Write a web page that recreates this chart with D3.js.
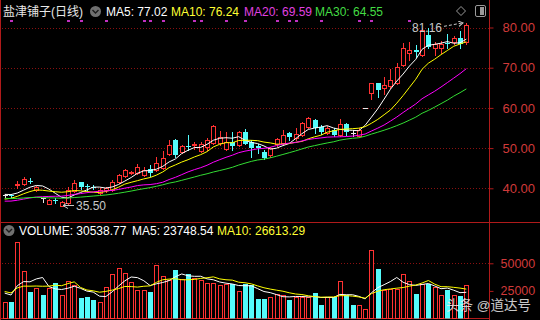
<!DOCTYPE html>
<html><head><meta charset="utf-8">
<script src="https://cdn.jsdelivr.net/npm/d3@7"></script>
<style>
html,body{margin:0;padding:0;background:#000;overflow:hidden;}
svg{display:block;}
text{font-family:"Liberation Sans",Arial,"Noto Sans CJK SC",sans-serif;}
</style></head><body>
<svg id="c" width="540" height="320"></svg>
<script>
// ---- data ----
const stockName = "盐津铺子(日线)";
const opens  = [38.3,38.3,40.9,41.1,41.9,39.5,37.5,36.1,37.2,35.7, 36.4,39.3,41.5,40.5,40.4,38.9,39.5,39.6,41.5,43.0, 43.8,43.8,43.4,44.7,44.5,45.0,48.5,52.0,49.1,50.6, 50.7,49.3,50.2,51.2,51.3,49.8,51.6,50.8,53.9,51.6, 50.6,49.1,48.3,51.0,51.3,53.7,52.4,53.3,55.3,57.0, 55.3,53.7,54.5,53.3,55.9,53.7,53.1,60.06,63.6,66.1, 64.9,65.4,66.1,70.7,73.6,74.4,73.2,78.2,74.8,75.0, 76.2,76.3,77.4,76.3];
const highs  = [38.7,38.5,41.7,42.7,42.6,40.6,37.5,37.3,37.6,36.8, 40.2,42.0,41.6,41.1,40.9,40.0,40.3,42.0,43.6,44.9, 44.4,46.0,45.2,45.8,47.9,49.3,52.0,52.2,50.8,53.2, 51.6,51.5,52.4,55.8,54.2,54.0,54.1,54.2,54.8,52.0, 51.0,49.6,50.2,52.5,54.5,54.0,55.0,56.6,57.8,57.2, 55.8,55.5,55.0,57.2,56.2,54.5,54.9,60.06,66.1,66.3, 67.8,69.8,71.1,76.1,76.5,75.6,80.0,79.8,76.5,76.6, 78.3,77.9,79.2,81.16];
const lows   = [37.9,37.9,40.0,40.9,41.2,39.3,36.7,36.0,36.3,35.5, 36.2,39.0,39.9,39.6,39.9,38.7,39.2,39.4,41.2,42.7, 43.5,43.5,43.0,43.0,44.3,44.8,48.2,47.8,48.8,49.5, 49.9,49.0,49.6,51.0,50.8,49.5,49.5,50.5,50.9,47.9, 48.7,47.2,47.9,50.5,51.0,52.0,52.0,53.0,55.0,53.7, 53.5,53.5,53.0,53.0,53.3,53.0,52.8,60.06,62.3,62.6, 63.5,64.9,65.9,70.5,71.9,72.7,72.8,75.0,73.2,73.6, 74.8,75.8,75.0,76.0];
const closes = [38.3,38.1,41.1,42.2,41.7,40.4,37.5,37.2,37.0,36.7, 39.6,41.2,40.2,40.3,40.2,39.6,40.0,41.6,43.3,44.5, 44.0,45.3,44.6,43.7,46.2,47.5,50.8,48.3,50.4,50.3, 50.9,51.0,52.1,55.5,52.7,51.6,50.4,54.0,51.1,50.0, 50.1,47.5,50.0,52.3,53.2,52.8,53.4,56.2,57.6,54.9, 54.1,55.1,53.3,55.9,54.1,53.7,54.6,60.06,66.07,64.5, 65.7,66.9,70.2,74.8,74.4,74.0,79.5,75.2,76.0,75.8, 76.0,77.4,75.8,80.5];
const volumes = [14900,14900,69000,42900,24400,28000,21400,28000,32400,21400, 33900,30400,18500,19900,17000,15200,28800,39900,45800,40800, 32700,25900,25900,23800,48800,38700,34500,43700,36000,40500, 36300,34800,31900,31900,30400,31000,31000,25000,31000,30400, 17900,17900,19900,22000,21000,17000,19900,19900,19900,22900, 12500,19900,19900,33900,21400,12500,12500,8600,61600,44600, 25900,26800,26800,39900,33900,22600,30800,31300,28800,21500, 25500,21000,20200,30539];
// closes / volumes just before the visible window, estimated from where the MA lines start
const priorCloses = [39.5,39.8,39.2,38.6,38.9,39.4,38.7,38.3,38.5,38.1, 37.6,37.0,36.4,36.1,35.8,36.0,35.7,36.2,36.5,35.7, 35.9,36.3,35.8,36.2,36.3,38.4,39.2,38.6,38.0];
const priorVolumes = [27000,24000,26500,25000,26500,23500,26800,24300,25500];
const signalDays = [1,10,12,16,22,23,25,30,31,35,38,43,45,46,50,56,58,64];
const priceTicks = [40,50,60,70,80];
const volumeTicks = [25000,50000];
const maPeriods = [5,10,20,30];
const maColors = ["#ffffff","#ffff00","#ff00ff","#33dd33"];
const maLegend = ["MA5: 77.02","MA10: 76.24","MA20: 69.59","MA30: 64.55"];
const volLegend = ["VOLUME: 30538.77","MA5: 23748.54","MA10: 26613.29"];

// ---- drawing ----
const N = closes.length;
const RED = "#ff3232", CYAN = "#54fcfc", BORDER = "#b01a1a", GRID = "#8a1010", AXT = "#d03a3a";
const svg = d3.select("#c");
svg.append("rect").attr("width",540).attr("height",320).attr("fill","#000");

const x = d3.scaleBand().domain(d3.range(N)).range([1.5, 469.5]);
const xc = i => x(i) + x.bandwidth()/2;
const yP = d3.scaleLinear().domain([40,80]).range([188.3,27.5]);
const yV = d3.scaleLinear().domain([0,50000]).range([318.5,263.3]);

// grid
priceTicks.forEach(t => {
  const y = Math.round(yP(t)) + 0.5;
  svg.append("line").attr("x1",2).attr("x2",489).attr("y1",y).attr("y2",y)
    .attr("stroke",GRID).attr("stroke-dasharray","1,2");
});
svg.append("line").attr("x1",2).attr("x2",489).attr("y1",Math.round(yV(50000))+0.5).attr("y2",Math.round(yV(50000))+0.5)
  .attr("stroke",GRID).attr("stroke-dasharray","1,2");

// borders
svg.append("line").attr("x1",0.5).attr("x2",0.5).attr("y1",0).attr("y2",320).attr("stroke",BORDER);
svg.append("line").attr("x1",489.5).attr("x2",489.5).attr("y1",0).attr("y2",320).attr("stroke",BORDER);
svg.append("line").attr("x1",0).attr("x2",540).attr("y1",222.5).attr("y2",222.5).attr("stroke",BORDER);
svg.append("line").attr("x1",0).attr("x2",490).attr("y1",318.5).attr("y2",318.5).attr("stroke",BORDER);

// axes
const axP = svg.append("g").attr("transform","translate(489.5,0)")
  .call(d3.axisRight(yP).tickValues(priceTicks).tickFormat(d3.format(".2f")).tickSize(4).tickPadding(9));
const axV = svg.append("g").attr("transform","translate(489.5,0)")
  .call(d3.axisRight(yV).tickValues(volumeTicks).tickFormat(d3.format("d")).tickSize(4).tickPadding(7));
[axP,axV].forEach(a => {
  a.select(".domain").remove();
  a.selectAll("line").attr("stroke",BORDER);
  a.selectAll("text").attr("fill",AXT).attr("font-size", a===axP ? "13px" : "12.5px")
    .attr("font-family","'Liberation Sans',Arial,sans-serif");
});

// colour of each day
const prevClose = i => i === 0 ? priorCloses[priorCloses.length-1] : closes[i-1];
const isUp = i => closes[i] > opens[i] || (closes[i] === opens[i] && closes[i] >= prevClose(i));

// moving averages
function movingAvg(prior, vals, p) {
  const full = prior.concat(vals), k = prior.length;
  return vals.map((v,i) => d3.mean(full.slice(k+i-p+1, k+i+1)));
}
const line = d3.line().x((d,i) => xc(i));

// candles
const cg = svg.append("g");
d3.range(N).forEach(i => {
  const cx = Math.round(xc(i));
  const o = opens[i], c = closes[i];
  const yh = Math.round(yP(highs[i])), yl = Math.round(yP(lows[i]));
  const yt = Math.round(yP(Math.max(o,c))), yb = Math.round(yP(Math.min(o,c)));
  if (c > o) {
    if (yt > yh) cg.append("line").attr("x1",cx+0.5).attr("x2",cx+0.5).attr("y1",yh).attr("y2",yt).attr("stroke",RED);
    if (yl > yb) cg.append("line").attr("x1",cx+0.5).attr("x2",cx+0.5).attr("y1",yb+1).attr("y2",yl+1).attr("stroke",RED);
    cg.append("rect").attr("x",cx-1.5).attr("y",yt+0.5).attr("width",4).attr("height",Math.max(yb-yt,0))
      .attr("fill","#000").attr("stroke",RED);
  } else if (c < o) {
    cg.append("line").attr("x1",cx+0.5).attr("x2",cx+0.5).attr("y1",yh).attr("y2",yl+1).attr("stroke",CYAN);
    cg.append("rect").attr("x",cx-2).attr("y",yt).attr("width",5).attr("height",Math.max(yb-yt,1)).attr("fill",CYAN);
  } else {
    cg.append("line").attr("x1",cx+0.5).attr("x2",cx+0.5).attr("y1",yh).attr("y2",yl+1).attr("stroke","#e8e8e8");
    cg.append("line").attr("x1",cx-2).attr("x2",cx+3).attr("y1",yt+0.5).attr("y2",yt+0.5).attr("stroke","#e8e8e8");
  }
});

// price MA lines
maPeriods.forEach((p,k) => {
  const ma = movingAvg(priorCloses, closes, p);
  svg.append("path").datum(ma).attr("d", line.y(v => yP(v)))
    .attr("fill","none").attr("stroke",maColors[k]).attr("stroke-width",1);
});

// volume bars
const vg = svg.append("g");
d3.range(N).forEach(i => {
  const cx = Math.round(xc(i));
  const yv = Math.round(yV(volumes[i]));
  if (isUp(i)) {
    vg.append("rect").attr("x",cx-1.5).attr("y",yv+0.5).attr("width",4).attr("height",318-yv)
      .attr("fill","#000").attr("stroke",RED);
  } else {
    vg.append("rect").attr("x",cx-2).attr("y",yv).attr("width",5).attr("height",318.5-yv).attr("fill",CYAN);
  }
});
[5,10].forEach((p,k) => {
  const ma = movingAvg(priorVolumes, volumes, p);
  svg.append("path").datum(ma).attr("d", line.y(v => yV(v)))
    .attr("fill","none").attr("stroke",maColors[k]).attr("stroke-width",1);
});

// signal dots
svg.append("g").selectAll("rect").data(signalDays).join("rect")
  .attr("x", d => Math.round(xc(d))-1).attr("y",20).attr("width",3).attr("height",2).attr("fill","#c030c0");

// high / low markers
const hiI = d3.maxIndex(highs), loI = d3.minIndex(lows);
const hx = Math.round(xc(hiI)) - 3, hy = yP(highs[hiI]);
svg.append("defs").html('<marker id="ah" viewBox="0 0 6 6" refX="5" refY="3" markerWidth="6" markerHeight="6" orient="auto"><path d="M0,0 L5,3 L0,6" fill="none" stroke="#c8c8c8"/></marker>');
svg.append("line").attr("x1",hx-19).attr("y1",hy+3.5).attr("x2",hx).attr("y2",hy)
  .attr("stroke","#c8c8c8").attr("stroke-dasharray","3,2").attr("marker-end","url(#ah)");
svg.append("text").attr("x",hx-21).attr("y",hy+9.5).attr("text-anchor","end").attr("font-size","12px")
  .attr("fill","#c8c8c8").text(d3.format(".2f")(highs[hiI]));
const lx = Math.round(xc(loI)) + 1, ly = Math.round(yP(lows[loI])) - 0.5;
svg.append("line").attr("x1",lx+11).attr("y1",ly).attr("x2",lx).attr("y2",ly)
  .attr("stroke","#c8c8c8").attr("marker-end","url(#ah)");
svg.append("text").attr("x",lx+13).attr("y",ly+4.5).attr("font-size","12px")
  .attr("fill","#c8c8c8").text(d3.format(".2f")(lows[loI]));

// legends
function icon(cx, cy) {
  svg.append("circle").attr("cx",cx).attr("cy",cy).attr("r",5.5).attr("fill","#707070");
  svg.append("path").attr("d",`M${cx-3},${cy-1.5} L${cx},${cy+1.5} L${cx+3},${cy-1.5}`)
    .attr("fill","none").attr("stroke","#1c1c1c").attr("stroke-width",1.4);
}
svg.append("text").attr("x",3).attr("y",16).attr("font-size","12px").attr("fill","#e8e8e8")
  .attr("font-family","'Noto Sans CJK SC','Liberation Sans',sans-serif").text(stockName);
icon(95.5, 11.5);
const legX = [106,171,244,315];
const legC = ["#ffffff","#ffff33","#e040e0","#44dd44"];
maLegend.forEach((t,k) => svg.append("text").attr("x",legX[k]).attr("y",16).attr("font-size","12px").attr("fill",legC[k]).text(t));
icon(9, 230.5);
const vlX = [19,132,217];
const vlC = ["#ffffff","#ffffff","#ffff33"];
volLegend.forEach((t,k) => svg.append("text").attr("x",vlX[k]).attr("y",235).attr("font-size","12px").attr("fill",vlC[k]).text(t));

// top-right icons
svg.append("path").attr("d","M461,6.5 L465.5,11 L461,15.5 L456.5,11 Z").attr("fill","none").attr("stroke","#9a9a9a");
svg.append("rect").attr("x",475.5).attr("y",5.5).attr("width",10).attr("height",11).attr("rx",1.5)
  .attr("fill","none").attr("stroke","#9a9a9a");
svg.append("rect").attr("x",480).attr("y",7).attr("width",4).attr("height",8).attr("fill","#9a9a9a");

// watermark
svg.append("text").attr("x",446).attr("y",310).attr("font-size","13.5px").attr("fill","#ededed").attr("opacity",0.85)
  .attr("font-family","'Noto Sans CJK SC',sans-serif").text("头条 @道达号");
</script>
</body></html>
